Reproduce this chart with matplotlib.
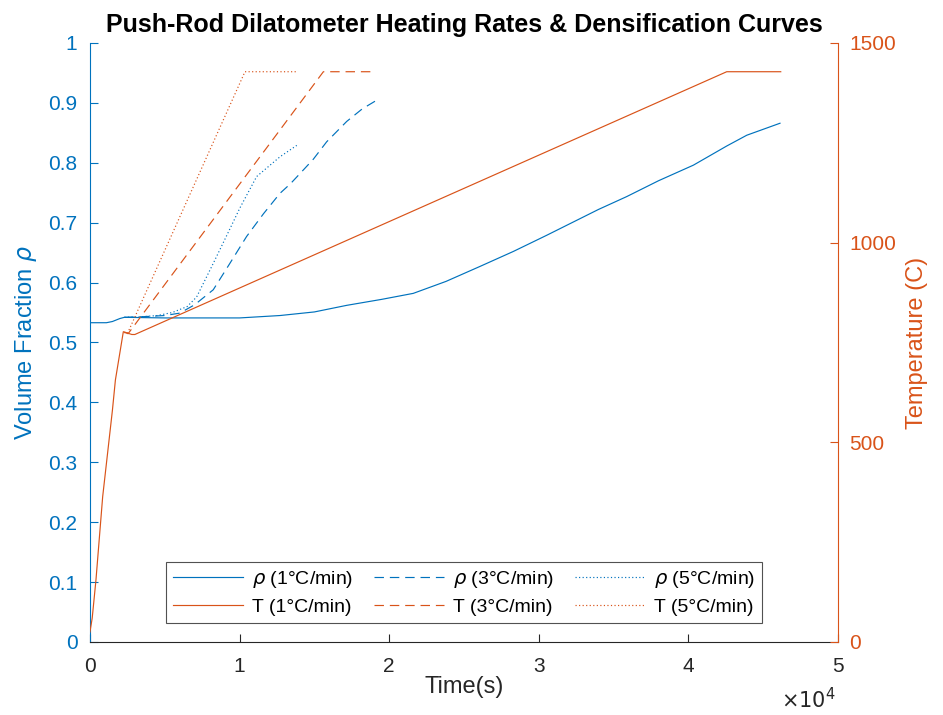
import matplotlib
matplotlib.use('Agg')
import matplotlib.pyplot as plt

plt.rcParams['font.family'] = ['Liberation Sans', 'DejaVu Sans']
plt.rcParams['mathtext.fontset'] = 'dejavusans'

blue = '#0072BD'
orange = '#D95319'
grey = '#262626'

# 1 C/min
t_rho1 = [0, 1100, 1500, 2000, 2300, 5000, 10000, 12700, 15000, 17160, 19500, 21610,
          23800, 26070, 28300, 30530, 33980, 35870, 38000, 40330, 42560, 43900, 46120]
rho1 = [0.533, 0.533, 0.535, 0.540, 0.542, 0.541, 0.541, 0.545, 0.551, 0.562, 0.572, 0.582,
        0.602, 0.627, 0.652, 0.679, 0.722, 0.7435, 0.770, 0.796, 0.828, 0.846, 0.866]
t_T1 = [0, 150, 400, 850, 1500, 1700, 2230, 2800, 3000, 42560, 46170]
T1 = [25, 60, 155, 364, 580, 656, 777, 770, 770, 1428, 1428]

# 3 C/min
t_rho3 = [2300, 3500, 5000, 6000, 7000, 8240, 9300, 10470, 11600, 12700, 13400, 14150,
          14930, 15820, 17160, 18200, 19270]
rho3 = [0.542, 0.543, 0.545, 0.549, 0.563, 0.588, 0.630, 0.677, 0.715, 0.749, 0.765, 0.785,
        0.806, 0.835, 0.869, 0.890, 0.906]
t_T3 = [2300, 2550, 15600, 18940]
T3 = [776, 772, 1428, 1428]

# 5 C/min
t_rho5 = [2300, 3500, 4500, 5500, 6500, 7130, 8240, 9360, 10030, 11140, 12700, 13820]
rho5 = [0.542, 0.543, 0.545, 0.550, 0.560, 0.576, 0.632, 0.690, 0.725, 0.777, 0.810, 0.829]
t_T5 = [2300, 2500, 10360, 13820]
T5 = [775, 772, 1428, 1428]

fig = plt.figure(figsize=(9.43, 7.15), dpi=100)
ax = fig.add_axes([0.0954, 0.1021, 0.7933, 0.8378])
ax2 = ax.twinx()

lw = 0.85
l1, = ax.plot(t_rho1, rho1, color=blue, lw=lw, label=r'$\rho$ (1°C/min)')
l3, = ax.plot(t_rho3, rho3, color=blue, lw=lw, ls=(0, (8, 5)), label=r'$\rho$ (3°C/min)')
l5, = ax.plot(t_rho5, rho5, color=blue, lw=lw, ls=(0, (1, 2)), label=r'$\rho$ (5°C/min)')
m1, = ax2.plot(t_T1, T1, color=orange, lw=lw, label='T (1°C/min)')
m3, = ax2.plot(t_T3, T3, color=orange, lw=lw, ls=(0, (8, 5)), label='T (3°C/min)')
m5, = ax2.plot(t_T5, T5, color=orange, lw=lw, ls=(0, (1, 2)), label='T (5°C/min)')

ax.set_xlim(0, 50000)
ax.set_ylim(0, 1)
ax2.set_ylim(0, 1500)
ax.set_xticks([0, 10000, 20000, 30000, 40000, 50000])
ax.set_xticklabels(['0', '1', '2', '3', '4', '5'])
ax.set_yticks([i / 10 for i in range(11)])
ax.set_yticklabels(['0'] + ['%.1f' % (i / 10) for i in range(1, 10)] + ['1'])
ax2.set_yticks([0, 500, 1000, 1500])

for a in (ax, ax2):
    a.spines['top'].set_visible(False)
ax.spines['right'].set_visible(False)
ax.spines['left'].set_color(blue)
ax.spines['bottom'].set_color(grey)
ax2.spines['left'].set_visible(False)
ax2.spines['bottom'].set_visible(False)
ax2.spines['right'].set_color(orange)

ax.tick_params(axis='y', direction='in', colors=blue, labelsize=15, length=6, pad=9)
ax.tick_params(axis='x', direction='in', colors=grey, labelsize=15, length=6, pad=11)
ax2.tick_params(axis='y', direction='in', colors=orange, labelsize=15, length=6, pad=8)

ax.set_xlabel('Time(s)', fontsize=17, color=grey, labelpad=0)
ax.set_ylabel(r'Volume Fraction $\rho$', fontsize=17, color=blue, labelpad=7)
ax2.set_ylabel('Temperature (C)', fontsize=17, color=orange, labelpad=7)
ax.set_title('Push-Rod Dilatometer Heating Rates & Densification Curves',
             fontsize=18, fontweight='bold', color='black', pad=8)
fig.text(0.886, 0.004, r'$\times10^4$', fontsize=15, color=grey, ha='right', va='bottom')

leg = ax.legend(handles=[l1, m1, l3, m3, l5, m5], ncol=3, loc='lower center',
                bbox_to_anchor=(0.5, 0.032), borderaxespad=0, fontsize=14, frameon=True,
                fancybox=False, edgecolor=grey, handlelength=3.6, columnspacing=1.1,
                borderpad=0.35, labelspacing=0.45, handletextpad=0.45)
leg.get_frame().set_linewidth(0.8)

fig.savefig('out.png', dpi=100)
